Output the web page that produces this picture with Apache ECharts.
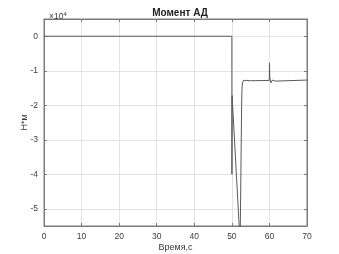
<!DOCTYPE html>
<html><head><meta charset="utf-8">
<script src="https://cdn.jsdelivr.net/npm/echarts@6/dist/echarts.min.js"></script>
<style>html,body{margin:0;padding:0;background:#fff}#c{width:339px;height:254px}</style>
</head><body><div id="c"></div>
<script>
const times = [0, 50, 50.02, 50.06, 52.2, 52.6, 52.7, 52.85, 53.1, 53.5, 54, 55, 59.95, 60.02, 60.1, 60.4, 60.8, 61.1, 61.5, 62, 70];
const torque = [0, 0, -4.0, -1.72, -6.0, -2.0, -1.5, -1.35, -1.28, -1.25, -1.28, -1.29, -1.28, -0.77, -1.2, -1.35, -1.27, -1.26, -1.3, -1.27, -1.27];
const xTicks = [0, 10, 20, 30, 40, 50, 60, 70];
const yTicks = [-5, -4, -3, -2, -1, 0];
const titleText = 'Момент АД';
const xName = 'Время,с';
const yName = 'Н*м';

const chart = echarts.init(document.getElementById('c'), null, {renderer: 'canvas'});
const axisCol = '#7a7a7a';
const gridCol = '#e3e3e3';
const txtCol = '#3a3a3a';
const font = 'Liberation Sans, Arial, sans-serif';
chart.setOption({
  animation: false,
  backgroundColor: '#fff',
  title: [
    {text: titleText, left: 175, top: 3, textAlign: 'center', textStyle: {fontSize: 10, fontWeight: 'bold', color: '#222', fontFamily: font}},
    {text: '×10{s|4}', left: 44, top: 6, textStyle: {fontSize: 8.5, fontWeight: 'normal', color: txtCol, fontFamily: font, rich: {s: {fontSize: 6, verticalAlign: 'top', color: txtCol, padding: [0,0,6,0]}}}}
  ],
  grid: {left: 44, right: 32, top: 19, bottom: 28, show: true, borderColor: axisCol, borderWidth: 1, outerBoundsMode: 'none', containLabel: false},
  xAxis: [{
    type: 'value', min: 0, max: 70, interval: 10,
    name: xName, nameLocation: 'middle', nameGap: 17, nameMoveOverlap: false,
    nameTextStyle: {fontSize: 9, color: txtCol, fontFamily: font},
    axisLine: {show: true, onZero: false, lineStyle: {color: axisCol, width: 1}},
    axisTick: {show: true, inside: true, length: 3, lineStyle: {color: axisCol}, customValues: xTicks},
    axisLabel: {fontSize: 8.5, color: txtCol, margin: 6, fontFamily: font, customValues: xTicks},
    splitLine: {show: true, lineStyle: {color: gridCol, width: 1}}
  }, {
    type: 'value', position: 'top', min: 0, max: 70, interval: 10,
    axisLine: {show: true, onZero: false, lineStyle: {color: axisCol}},
    axisTick: {show: true, inside: true, length: 3, lineStyle: {color: axisCol}},
    axisLabel: {show: false}, splitLine: {show: false}
  }],
  yAxis: [{
    type: 'value', min: -5.5, max: 0.5,
    name: yName, nameLocation: 'middle', nameGap: 15, nameRotate: 90, nameMoveOverlap: false,
    nameTextStyle: {fontSize: 9, color: txtCol, fontFamily: font},
    axisLine: {show: true, onZero: false, lineStyle: {color: axisCol, width: 1}},
    axisTick: {show: true, inside: true, length: 3, lineStyle: {color: axisCol}, customValues: yTicks},
    axisLabel: {fontSize: 8.5, color: txtCol, margin: 6, fontFamily: font, customValues: yTicks},
    splitLine: {show: true, lineStyle: {color: gridCol, width: 1}}
  }, {
    type: 'value', position: 'right', min: -5.5, max: 0.5,
    axisLine: {show: true, onZero: false, lineStyle: {color: axisCol}},
    axisTick: {show: true, inside: true, length: 3, lineStyle: {color: axisCol}, customValues: yTicks},
    axisLabel: {show: false, customValues: yTicks}, splitLine: {show: false}
  }],
  series: [{
    type: 'line', xAxisIndex: 0, yAxisIndex: 0, showSymbol: false, clip: true,
    data: times.map((t, i) => [t, torque[i]]),
    lineStyle: {color: '#5a5a5a', width: 1}
  }]
});
</script></body></html>
